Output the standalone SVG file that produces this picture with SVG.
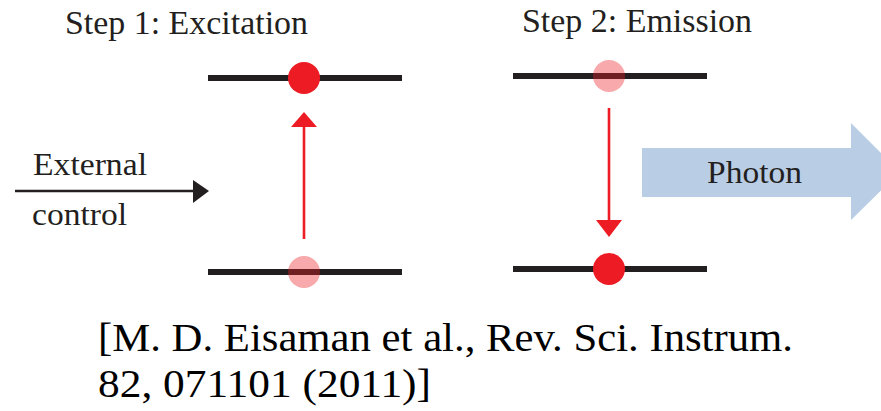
<svg xmlns="http://www.w3.org/2000/svg" width="881" height="411" viewBox="0 0 881 411">
<style>
.lvl{stroke:#231f20;stroke-width:6;fill:none}
.on{fill:#ed1c24}
.off{fill:#ed1c24;fill-opacity:0.38}
.red{stroke:#ed1c24;stroke-width:2.6;fill:none}
text{font-family:'Liberation Serif','Times New Roman',Times,'DejaVu Serif',serif}
.t{fill:#231f20}
.cite{fill:#000}
</style>
<rect width="881" height="411" fill="#fff"/>
<g id="step1">
<text class="t" x="65" y="34" font-size="33" textLength="243" lengthAdjust="spacingAndGlyphs">Step 1: Excitation</text>
<line class="lvl" x1="208" y1="78" x2="402" y2="78"/>
<circle class="on" cx="304" cy="78" r="16"/>
<line class="lvl" x1="208" y1="272" x2="402" y2="272"/>
<circle class="off" cx="304" cy="272" r="16"/>
</g>
<g id="step2">
<text class="t" x="522" y="32" font-size="33" textLength="230" lengthAdjust="spacingAndGlyphs">Step 2: Emission</text>
<line class="lvl" x1="513" y1="76" x2="707" y2="76"/>
<circle class="off" cx="609" cy="76" r="16"/>
<line class="lvl" x1="513" y1="269" x2="707" y2="269"/>
<circle class="on" cx="609" cy="269" r="16"/>
</g>
<g id="external">
<text class="t" x="33" y="175" font-size="31" textLength="114" lengthAdjust="spacingAndGlyphs">External</text>
<text class="t" x="32" y="225" font-size="31" textLength="95" lengthAdjust="spacingAndGlyphs">control</text>
</g>
<g id="photon">
<polygon points="642,148 851,148 851,123 900,172 851,220 851,197 642,197" fill="#b9cde5"/>
<text class="t" x="707" y="183" font-size="31" textLength="95" lengthAdjust="spacingAndGlyphs">Photon</text>
</g>
<g id="connectors">
<line x1="15" y1="191" x2="195" y2="191" stroke="#231f20" stroke-width="2.5"/>
<polygon points="193,180 209,191 193,203" fill="#231f20"/>
<line class="red" x1="304" y1="239" x2="304" y2="125"/>
<polygon points="291,127 304,112 317,127" fill="#ed1c24"/>
<line class="red" x1="609" y1="108" x2="609" y2="222"/>
<polygon points="596,220 609,237 622,220" fill="#ed1c24"/>
</g>
<g id="citation">
<text class="cite" x="98" y="351" font-size="41" textLength="695" lengthAdjust="spacingAndGlyphs">[M. D. Eisaman et al., Rev. Sci. Instrum.</text>
<text class="cite" x="98" y="397" font-size="41" textLength="333" lengthAdjust="spacingAndGlyphs">82, 071101 (2011)]</text>
</g>
</svg>
